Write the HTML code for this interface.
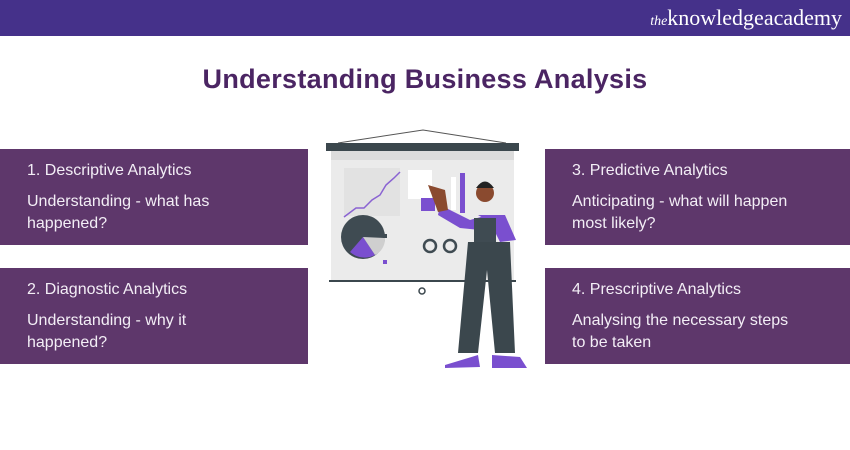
<!DOCTYPE html>
<html><head><meta charset="utf-8"><style>
body{margin:0;width:850px;height:450px;background:#fff;position:relative;overflow:hidden;font-family:"Liberation Sans",sans-serif}
.hdr{position:absolute;left:0;top:0;width:850px;height:36px;background:#45318a}
.logo{position:absolute;right:8px;top:5px;color:#fff;font-family:"Liberation Serif",serif;font-size:22px;letter-spacing:0}
.logo i{font-size:14px}
h1{position:absolute;top:64px;left:0;width:850px;text-align:center;margin:0;font-size:27px;font-weight:bold;color:#4b2563;letter-spacing:0.3px}
.b{position:absolute;width:308px;height:96px;background:#5e376b;color:#f3eef6;font-size:16px;box-sizing:border-box;padding:11px 0 0 27px;line-height:22px}
.b p{margin:0}
.b .t{margin-bottom:9px}
</style></head><body>
<div class="hdr"><div class="logo"><i>the</i>knowledgeacademy</div></div>
<h1>Understanding Business Analysis</h1>
<div class="b" style="left:0;top:149px"><p class="t">1. Descriptive Analytics</p><p>Understanding - what has<br>happened?</p></div>
<div class="b" style="left:0;top:268px"><p class="t">2. Diagnostic Analytics</p><p>Understanding - why it<br>happened?</p></div>
<div class="b" style="left:545px;top:149px;width:305px"><p class="t">3. Predictive Analytics</p><p>Anticipating - what will happen<br>most likely?</p></div>
<div class="b" style="left:545px;top:268px;width:305px"><p class="t">4. Prescriptive Analytics</p><p>Analysing the necessary steps<br>to be taken</p></div>
<svg style="position:absolute;left:320px;top:120px" width="220" height="260">
<path d="M18 23 L103 10 L186 23" stroke="#555" fill="none" stroke-width="1"/>
<rect x="6" y="23" width="193" height="8" fill="#3b474d"/>
<rect x="11" y="31" width="183" height="130" fill="#ebebeb"/>
<rect x="11" y="31" width="183" height="9" fill="#dcdcdc"/>
<rect x="24" y="48" width="56" height="48" fill="#e2e2e2"/>
<polyline points="24,97 36,88 44,88 52,80 60,75 66,65 74,58 80,52" stroke="#8a63d2" fill="none" stroke-width="1.5"/>
<rect x="88" y="50" width="24" height="29" fill="#fff"/>
<rect x="101" y="78" width="14" height="13" fill="#7a4fcf"/>
<rect x="131" y="57" width="5" height="33" fill="#fff"/>
<rect x="140" y="53" width="5" height="40" fill="#7a4fcf"/>
<circle cx="43" cy="117" r="22" fill="#3f4b52"/>
<path d="M43 117 L30 132 A22 22 0 0 0 55 135 Z" fill="#7a4fcf"/>
<path d="M43 117 L65 118 A18 18 0 0 1 55 135 Z" fill="#cfcfcf"/>
<rect x="63" y="114" width="4" height="4" fill="#3f4b52"/><rect x="63" y="140" width="4" height="4" fill="#7a4fcf"/>
<circle cx="110" cy="126" r="6" fill="none" stroke="#3f4b52" stroke-width="2.5"/>
<circle cx="130" cy="126" r="6" fill="none" stroke="#3f4b52" stroke-width="2.5"/>
<rect x="9" y="160" width="187" height="2" fill="#3b474d"/>
<circle cx="102" cy="171" r="3" fill="none" stroke="#3b474d" stroke-width="1.5"/>
<path d="M158 95 L185 95 L196 120 L180 122 L170 102 Z" fill="#7a4fcf"/>
<path d="M120 85 L150 100 L168 95 L160 110 L140 108 L118 95 Z" fill="#7a4fcf"/>
<path d="M108 65 L125 70 L128 90 L118 92 Z" fill="#8a4a2f"/>
<circle cx="165" cy="73" r="9" fill="#8a4a2f"/>
<path d="M156 68 Q165 55 174 68 Z" fill="#222"/>
<rect x="154" y="98" width="22" height="28" fill="#3f4b52"/>
<path d="M148 122 L190 122 L195 233 L175 233 L167 150 L158 233 L138 233 Z" fill="#3b474d"/>
<path d="M125 245 L158 235 L160 247 L125 248 Z" fill="#7a4fcf"/>
<path d="M172 235 L200 237 L207 248 L172 248 Z" fill="#7a4fcf"/>
</svg>
</body></html>
